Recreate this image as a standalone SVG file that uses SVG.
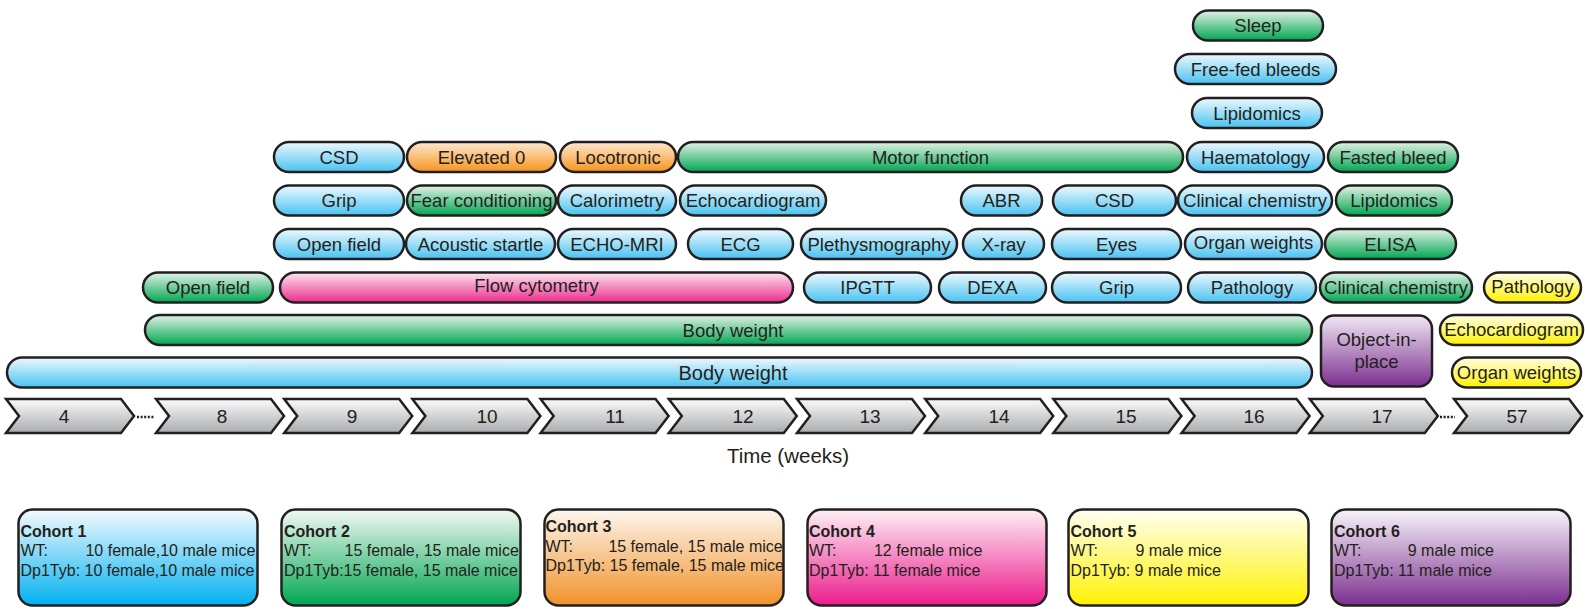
<svg xmlns="http://www.w3.org/2000/svg" width="1585" height="609" viewBox="0 0 1585 609">
<defs>
<linearGradient id="gB" x1="0" y1="0" x2="0" y2="1"><stop offset="0" stop-color="#eef9fe"/><stop offset="1" stop-color="#48c2f1"/></linearGradient>
<linearGradient id="gG" x1="0" y1="0" x2="0" y2="1"><stop offset="0" stop-color="#e2f2e6"/><stop offset="1" stop-color="#00a651"/></linearGradient>
<linearGradient id="gO" x1="0" y1="0" x2="0" y2="1"><stop offset="0" stop-color="#fde8d0"/><stop offset="1" stop-color="#f7941d"/></linearGradient>
<linearGradient id="gK" x1="0" y1="0" x2="0" y2="1"><stop offset="0" stop-color="#fce6ef"/><stop offset="1" stop-color="#ec2a8c"/></linearGradient>
<linearGradient id="gY" x1="0" y1="0" x2="0" y2="1"><stop offset="0" stop-color="#fffee8"/><stop offset="1" stop-color="#fff200"/></linearGradient>
<linearGradient id="gU" x1="0" y1="0" x2="0" y2="1"><stop offset="0" stop-color="#f0e8f4"/><stop offset="1" stop-color="#7b2f8f"/></linearGradient>
<linearGradient id="gS" x1="0" y1="0" x2="0" y2="1"><stop offset="0" stop-color="#fbfbfb"/><stop offset="1" stop-color="#a9abae"/></linearGradient>
<linearGradient id="cB" x1="0" y1="0" x2="0" y2="1"><stop offset="0" stop-color="#f4fbfe"/><stop offset="1" stop-color="#00b0f0"/></linearGradient>
<linearGradient id="cG" x1="0" y1="0" x2="0" y2="1"><stop offset="0" stop-color="#f2f9f4"/><stop offset="1" stop-color="#00a651"/></linearGradient>
<linearGradient id="cO" x1="0" y1="0" x2="0" y2="1"><stop offset="0" stop-color="#fef6ee"/><stop offset="1" stop-color="#f0922a"/></linearGradient>
<linearGradient id="cK" x1="0" y1="0" x2="0" y2="1"><stop offset="0" stop-color="#fdf0f5"/><stop offset="1" stop-color="#ec1c8c"/></linearGradient>
<linearGradient id="cY" x1="0" y1="0" x2="0" y2="1"><stop offset="0" stop-color="#fffff4"/><stop offset="1" stop-color="#fff200"/></linearGradient>
<linearGradient id="cU" x1="0" y1="0" x2="0" y2="1"><stop offset="0" stop-color="#f8f5fa"/><stop offset="1" stop-color="#7b2f8f"/></linearGradient>
</defs>
<style>
.p{stroke:#231f20;stroke-width:2.5}
.b{fill:url(#gB)}.g{fill:url(#gG)}.o{fill:url(#gO)}.k{fill:url(#gK)}.y{fill:url(#gY)}.u{fill:url(#gU)}.s{fill:url(#gS)}
.t{font-family:"Liberation Sans",Arial,Helvetica,sans-serif;font-size:18.5px;fill:#231f20;text-anchor:middle}
.n{font-family:"Liberation Sans",Arial,Helvetica,sans-serif;font-size:19px;fill:#231f20;text-anchor:middle}
.c{font-family:"Liberation Sans",Arial,Helvetica,sans-serif;font-size:16px;fill:#231f20}
.h{font-weight:bold}
.e{text-anchor:end}
</style>
<rect width="1585" height="609" fill="#ffffff"/>

<!-- top stack -->
<g id="sleep"><rect class="p g" x="1193" y="10.5" width="130" height="30" rx="15"/><text class="t" x="1258" y="32.1">Sleep</text></g>
<g id="freefed"><rect class="p b" x="1175" y="54" width="161" height="30" rx="15"/><text class="t" x="1255.5" y="75.6">Free-fed bleeds</text></g>
<g id="lipidomics1"><rect class="p b" x="1192" y="98" width="130" height="30" rx="15"/><text class="t" x="1257" y="119.6">Lipidomics</text></g>

<!-- row 3 -->
<g id="csd1"><rect class="p b" x="274" y="142" width="130" height="30" rx="15"/><text class="t" x="339" y="163.6">CSD</text></g>
<g id="elevated"><rect class="p o" x="407" y="142" width="149" height="30" rx="15"/><text class="t" x="481.5" y="163.6">Elevated 0</text></g>
<g id="locotronic"><rect class="p o" x="560" y="142" width="116" height="30" rx="15"/><text class="t" x="618" y="163.6">Locotronic</text></g>
<g id="motor"><rect class="p g" x="678" y="142" width="505" height="30" rx="15"/><text class="t" x="930.5" y="163.6">Motor function</text></g>
<g id="haematology"><rect class="p b" x="1187" y="142" width="137" height="30" rx="15"/><text class="t" x="1255.5" y="163.6">Haematology</text></g>
<g id="fasted"><rect class="p g" x="1328" y="142" width="130" height="30" rx="15"/><text class="t" x="1393" y="163.6">Fasted bleed</text></g>

<!-- row 4 -->
<g id="grip1"><rect class="p b" x="274" y="185.5" width="130" height="30" rx="15"/><text class="t" x="339" y="207.1">Grip</text></g>
<g id="fear"><rect class="p g" x="407" y="185.5" width="149" height="30" rx="15"/><text class="t" x="481.5" y="207.1">Fear conditioning</text></g>
<g id="calorimetry"><rect class="p b" x="558" y="185.5" width="118" height="30" rx="15"/><text class="t" x="617" y="207.1">Calorimetry</text></g>
<g id="echo1"><rect class="p b" x="680" y="185.5" width="146" height="30" rx="15"/><text class="t" x="753" y="207.1">Echocardiogram</text></g>
<g id="abr"><rect class="p b" x="961" y="185.5" width="81" height="30" rx="15"/><text class="t" x="1001.5" y="207.1">ABR</text></g>
<g id="csd2"><rect class="p b" x="1053" y="185.5" width="123" height="30" rx="15"/><text class="t" x="1114.5" y="207.1">CSD</text></g>
<g id="clinchem1"><rect class="p b" x="1178" y="185.5" width="154" height="30" rx="15"/><text class="t" x="1255" y="207.1">Clinical chemistry</text></g>
<g id="lipidomics2"><rect class="p g" x="1336" y="185.5" width="116" height="30" rx="15"/><text class="t" x="1394" y="207.1">Lipidomics</text></g>

<!-- row 5 -->
<g id="openfield1"><rect class="p b" x="274" y="229" width="130" height="30" rx="15"/><text class="t" x="339" y="250.6">Open field</text></g>
<g id="acoustic"><rect class="p b" x="406" y="229" width="149" height="30" rx="15"/><text class="t" x="480.5" y="250.6">Acoustic startle</text></g>
<g id="echomri"><rect class="p b" x="558" y="229" width="118" height="30" rx="15"/><text class="t" x="617" y="250.6">ECHO-MRI</text></g>
<g id="ecg"><rect class="p b" x="688" y="229" width="105" height="30" rx="15"/><text class="t" x="740.5" y="250.6">ECG</text></g>
<g id="pleth"><rect class="p b" x="801" y="229" width="156" height="30" rx="15"/><text class="t" x="879" y="250.6">Plethysmography</text></g>
<g id="xray"><rect class="p b" x="963" y="229" width="81" height="30" rx="15"/><text class="t" x="1003.5" y="250.6">X-ray</text></g>
<g id="eyes"><rect class="p b" x="1052" y="229" width="129" height="30" rx="15"/><text class="t" x="1116.5" y="250.6">Eyes</text></g>
<g id="organ1"><rect class="p b" x="1185" y="229" width="137" height="30" rx="15"/><text class="t" x="1253.5" y="248.6">Organ weights</text></g>
<g id="elisa"><rect class="p g" x="1325" y="229" width="131" height="30" rx="15"/><text class="t" x="1390.5" y="250.6">ELISA</text></g>

<!-- row 6 -->
<g id="openfield2"><rect class="p g" x="143" y="272.5" width="130" height="30" rx="15"/><text class="t" x="208" y="294.1">Open field</text></g>
<g id="flow"><rect class="p k" x="280" y="272.5" width="513" height="30" rx="15"/><text class="t" x="536.5" y="292.1">Flow cytometry</text></g>
<g id="ipgtt"><rect class="p b" x="804" y="272.5" width="127" height="30" rx="15"/><text class="t" x="867.5" y="294.1">IPGTT</text></g>
<g id="dexa"><rect class="p b" x="939" y="272.5" width="107" height="30" rx="15"/><text class="t" x="992.5" y="294.1">DEXA</text></g>
<g id="grip2"><rect class="p b" x="1052" y="272.5" width="129" height="30" rx="15"/><text class="t" x="1116.5" y="294.1">Grip</text></g>
<g id="pathology1"><rect class="p b" x="1188" y="272.5" width="128" height="30" rx="15"/><text class="t" x="1252" y="294.1">Pathology</text></g>
<g id="clinchem2"><rect class="p g" x="1320" y="272.5" width="152" height="30" rx="15"/><text class="t" x="1396" y="294.1">Clinical chemistry</text></g>
<g id="pathology2"><rect class="p y" x="1484" y="272.5" width="97" height="30" rx="15"/><text class="t" x="1532.5" y="292.6">Pathology</text></g>

<!-- rows 7-8 -->
<g id="bodyweight1"><rect class="p g" x="145" y="315" width="1167" height="30" rx="15"/><text class="t" x="733" y="336.6">Body weight</text></g>
<g id="objectinplace"><rect class="p u" x="1321" y="315.5" width="111" height="71" rx="13"/><text class="t" x="1376.5" y="345.5">Object-in-</text><text class="t" x="1376.5" y="367.5">place</text></g>
<g id="echo2"><rect class="p y" x="1440" y="315" width="143" height="30" rx="15"/><text class="t" x="1511.5" y="336.1">Echocardiogram</text></g>
<g id="bodyweight2"><rect class="p b" x="7" y="357.5" width="1305" height="30" rx="15"/><text class="t" x="733" y="379.6" style="font-size:20px">Body weight</text></g>
<g id="organ2"><rect class="p y" x="1452" y="357.5" width="129" height="30" rx="15"/><text class="t" x="1516.5" y="379.1">Organ weights</text></g>

<!-- timeline -->
<g id="timeline">
<polygon class="p s" points="6,399 121,399 134,416 121,433 6,433 19,416"/>
<polygon class="p s" points="156,399 271,399 284,416 271,433 156,433 169,416"/>
<polygon class="p s" points="284.2,399 399.2,399 412.2,416 399.2,433 284.2,433 297.2,416"/>
<polygon class="p s" points="412.4,399 527.4,399 540.4,416 527.4,433 412.4,433 425.4,416"/>
<polygon class="p s" points="540.6,399 655.6,399 668.6,416 655.6,433 540.6,433 553.6,416"/>
<polygon class="p s" points="668.8,399 783.8,399 796.8,416 783.8,433 668.8,433 681.8,416"/>
<polygon class="p s" points="797,399 912,399 925,416 912,433 797,433 810,416"/>
<polygon class="p s" points="925.2,399 1040.2,399 1053.2,416 1040.2,433 925.2,433 938.2,416"/>
<polygon class="p s" points="1053.4,399 1168.4,399 1181.4,416 1168.4,433 1053.4,433 1066.4,416"/>
<polygon class="p s" points="1181.6,399 1296.6,399 1309.6,416 1296.6,433 1181.6,433 1194.6,416"/>
<polygon class="p s" points="1309.8,399 1424.8,399 1437.8,416 1424.8,433 1309.8,433 1322.8,416"/>
<polygon class="p s" points="1454,399 1569,399 1582,416 1569,433 1454,433 1467,416"/>
<line x1="137" y1="417" x2="154" y2="417" stroke="#231f20" stroke-width="2.5" stroke-dasharray="2 1.6"/>
<line x1="1440" y1="417" x2="1455" y2="417" stroke="#231f20" stroke-width="2.5" stroke-dasharray="2 1.6"/>
<text class="n" x="64" y="423">4</text>
<text class="n" x="222" y="423">8</text>
<text class="n" x="352" y="423">9</text>
<text class="n" x="487" y="423">10</text>
<text class="n" x="615" y="423">11</text>
<text class="n" x="743" y="423">12</text>
<text class="n" x="870" y="423">13</text>
<text class="n" x="999" y="423">14</text>
<text class="n" x="1126" y="423">15</text>
<text class="n" x="1254" y="423">16</text>
<text class="n" x="1382" y="423">17</text>
<text class="n" x="1517" y="423">57</text>
<text class="t" x="788" y="463" style="font-size:20.5px">Time (weeks)</text>
</g>

<!-- cohorts -->
<g id="cohort1"><rect class="p" fill="url(#cB)" x="18.5" y="509.5" width="239" height="96" rx="14"/>
<text class="c h" x="20.5" y="536.5">Cohort 1</text><text class="c" x="20.5" y="556">WT:</text><text class="c e" x="255.3" y="556">10 female,10 male mice</text><text class="c" x="20.5" y="575.5">Dp1Tyb: 10 female,10 male mice</text></g>
<g id="cohort2"><rect class="p" fill="url(#cG)" x="281.5" y="509.5" width="239" height="96" rx="14"/>
<text class="c h" x="284" y="536.5">Cohort 2</text><text class="c" x="284" y="556">WT:</text><text class="c e" x="518.8" y="556">15 female, 15 male mice</text><text class="c" x="284" y="575.5">Dp1Tyb:15 female, 15 male mice</text></g>
<g id="cohort3"><rect class="p" fill="url(#cO)" x="544.5" y="509.5" width="239" height="96" rx="14"/>
<text class="c h" x="545.5" y="532">Cohort 3</text><text class="c" x="545.5" y="551.5">WT:</text><text class="c e" x="782.7" y="551.5">15 female, 15 male mice</text><text class="c" x="545.5" y="571">Dp1Tyb: 15 female, 15 male mice</text></g>
<g id="cohort4"><rect class="p" fill="url(#cK)" x="807.5" y="509.5" width="239" height="96" rx="14"/>
<text class="c h" x="809" y="536.5">Cohort 4</text><text class="c" x="809" y="556">WT:</text><text class="c e" x="982.4" y="556">12 female mice</text><text class="c" x="809" y="575.5">Dp1Tyb: 11 female mice</text></g>
<g id="cohort5"><rect class="p" fill="url(#cY)" x="1068.5" y="509.5" width="240" height="96" rx="14"/>
<text class="c h" x="1070.5" y="536.5">Cohort 5</text><text class="c" x="1070.5" y="556">WT:</text><text class="c e" x="1221.7" y="556">9 male mice</text><text class="c" x="1070.5" y="575.5">Dp1Tyb: 9 male mice</text></g>
<g id="cohort6"><rect class="p" fill="url(#cU)" x="1331.5" y="509.5" width="239" height="96" rx="14"/>
<text class="c h" x="1334" y="536.5">Cohort 6</text><text class="c" x="1334" y="556">WT:</text><text class="c e" x="1494" y="556">9 male mice</text><text class="c" x="1334" y="575.5">Dp1Tyb: 11 male mice</text></g>
</svg>
